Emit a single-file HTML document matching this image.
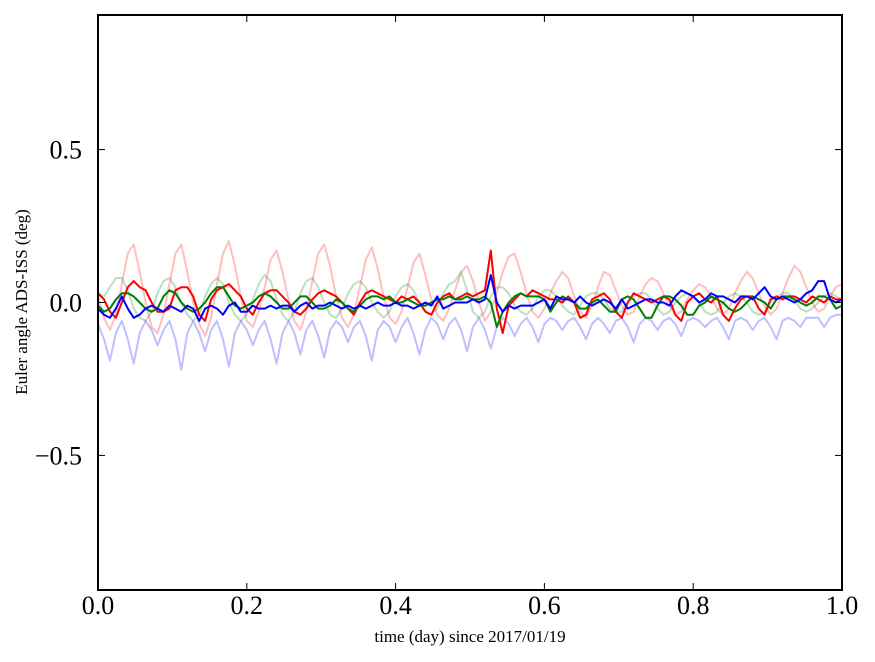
<!DOCTYPE html>
<html><head><meta charset="utf-8"><style>
html,body{margin:0;padding:0;background:#fff;}
svg{display:block;font-family:"Liberation Serif",serif;}
</style></head><body>
<svg id="chart" width="875" height="662">
<rect x="0" y="0" width="875" height="662" fill="#fff"/>
<g id="series"></g>
<rect x="98" y="15" width="744" height="575" fill="none" stroke="#000" stroke-width="2"/>
<g id="axes"></g>
<text x="470" y="642" font-size="17" text-anchor="middle">time (day) since 2017/01/19</text>
<text x="27" y="302" font-size="17" text-anchor="middle" transform="rotate(-90 27 302)">Euler angle ADS-ISS (deg)</text>
</svg>
<script>
const step = 0.008;
const xTicks = [0, 0.2, 0.4, 0.6, 0.8, 1.0];
const xTickLabels = ["0.0","0.2","0.4","0.6","0.8","1.0"];
const yTicks = [-0.5, 0, 0.5];
const yTickLabels = ["\u22120.5","0.0","0.5"];
const paleRed = [0.02,-0.05,-0.09,-0.04,0.06,0.16,0.19,0.10,0.0,-0.08,-0.10,-0.04,0.06,0.16,0.19,0.10,0.0,-0.07,-0.11,-0.05,0.06,0.16,0.20,0.12,0.02,-0.06,-0.08,-0.03,0.05,0.14,0.17,0.10,0.01,-0.06,-0.09,-0.03,0.07,0.16,0.19,0.12,0.02,-0.05,-0.08,-0.04,0.05,0.14,0.18,0.11,0.02,-0.05,-0.07,-0.03,0.05,0.13,0.16,0.09,0.01,-0.04,-0.06,-0.02,0.04,0.10,0.12,0.07,0.0,-0.06,-0.03,0.03,0.10,0.15,0.16,0.10,0.03,-0.03,-0.05,-0.02,0.03,0.07,0.10,0.08,0.02,-0.03,-0.05,-0.01,0.05,0.10,0.09,0.04,-0.01,-0.04,-0.03,0.02,0.06,0.08,0.07,0.03,-0.01,-0.04,-0.03,0.01,0.04,0.06,0.05,0.02,-0.02,-0.04,-0.02,0.03,0.07,0.10,0.08,0.03,-0.01,-0.04,-0.02,0.03,0.08,0.12,0.10,0.05,0.0,-0.03,-0.02,0.02,0.05,0.06];
const paleGreen = [0.03,0.02,0.05,0.08,0.08,0.04,-0.02,-0.05,-0.06,-0.03,0.03,0.07,0.08,0.05,0.0,-0.04,-0.06,-0.04,0.02,0.06,0.08,0.06,0.0,-0.04,-0.06,-0.04,0.01,0.06,0.09,0.07,0.01,-0.04,-0.06,-0.03,0.03,0.07,0.08,0.05,0.0,-0.04,-0.05,-0.02,0.03,0.06,0.07,0.05,0.0,-0.03,-0.05,-0.03,0.02,0.05,0.06,0.04,0.0,-0.03,-0.04,-0.02,0.03,0.06,0.07,0.10,0.04,-0.03,-0.05,-0.03,0.02,0.05,0.05,0.03,-0.01,-0.03,-0.04,-0.02,0.02,0.04,0.04,0.02,-0.01,-0.03,-0.04,-0.01,0.02,0.03,0.03,0.01,-0.02,-0.03,-0.03,0.0,0.02,0.03,0.03,0.01,-0.02,-0.04,-0.03,0.0,0.02,0.03,0.02,0.0,-0.03,-0.04,-0.03,0.0,0.02,0.03,0.02,0.0,-0.03,-0.04,-0.03,0.0,0.02,0.03,0.03,0.01,-0.02,-0.03,-0.02,0.0,0.02,0.03,0.02,0.01];
const paleBlue = [-0.07,-0.12,-0.19,-0.10,-0.06,-0.12,-0.20,-0.10,-0.06,-0.09,-0.14,-0.09,-0.06,-0.12,-0.22,-0.10,-0.06,-0.10,-0.16,-0.09,-0.06,-0.12,-0.21,-0.10,-0.06,-0.09,-0.14,-0.09,-0.06,-0.12,-0.20,-0.10,-0.06,-0.10,-0.17,-0.09,-0.06,-0.11,-0.18,-0.09,-0.06,-0.08,-0.13,-0.08,-0.06,-0.11,-0.19,-0.09,-0.06,-0.08,-0.13,-0.08,-0.05,-0.10,-0.17,-0.09,-0.05,-0.07,-0.12,-0.07,-0.05,-0.09,-0.16,-0.08,-0.05,-0.09,-0.15,-0.08,-0.05,-0.07,-0.11,-0.07,-0.05,-0.08,-0.13,-0.07,-0.05,-0.06,-0.09,-0.06,-0.05,-0.08,-0.12,-0.07,-0.05,-0.07,-0.10,-0.06,-0.05,-0.08,-0.13,-0.07,-0.05,-0.06,-0.09,-0.06,-0.05,-0.07,-0.11,-0.06,-0.05,-0.06,-0.08,-0.06,-0.05,-0.08,-0.12,-0.06,-0.05,-0.06,-0.09,-0.06,-0.05,-0.08,-0.12,-0.06,-0.05,-0.06,-0.08,-0.05,-0.05,-0.05,-0.08,-0.05,-0.04,-0.04];
const red = [0.03,0.01,-0.03,-0.05,0.0,0.05,0.07,0.05,0.04,0.0,-0.03,-0.03,-0.02,0.04,0.05,0.05,0.02,-0.04,-0.06,0.01,0.04,0.05,0.06,0.04,0.02,-0.02,-0.04,0.0,0.03,0.04,0.04,0.02,0.0,-0.03,-0.04,-0.02,0.01,0.03,0.04,0.03,0.02,0.0,-0.02,-0.04,0.0,0.03,0.04,0.03,0.02,0.01,0.0,0.02,0.01,0.02,0.0,-0.03,-0.04,0.0,0.02,0.03,0.01,0.02,0.03,0.02,0.03,0.04,0.17,-0.02,-0.10,-0.01,0.01,0.03,0.02,0.04,0.03,0.02,0.01,0.01,0.0,0.02,0.0,-0.05,-0.04,0.01,0.02,0.03,0.01,-0.03,-0.05,0.0,0.03,0.02,0.01,0.0,0.01,0.02,0.01,-0.04,-0.06,0.0,0.02,0.03,0.01,0.0,0.02,-0.04,-0.06,-0.02,0.01,0.02,0.02,-0.02,-0.04,0.01,0.02,0.01,0.02,0.02,0.01,0.0,0.02,0.01,0.0,0.02,0.01,0.01];
const green = [-0.01,-0.03,-0.02,0.01,0.03,0.03,0.02,0.0,-0.02,-0.03,-0.02,0.02,0.04,0.03,0.0,-0.02,-0.03,-0.02,0.0,0.03,0.05,0.05,0.02,-0.01,-0.02,-0.01,0.0,0.02,0.03,0.02,0.0,-0.02,-0.02,0.0,0.02,0.02,0.0,-0.02,-0.02,-0.01,0.01,0.0,-0.02,-0.03,-0.01,0.01,0.02,0.02,0.01,0.02,0.0,0.0,0.01,0.0,-0.01,-0.01,0.0,0.01,0.01,0.02,0.01,0.01,0.02,0.01,0.01,0.02,0.0,-0.08,-0.03,0.0,0.02,0.03,0.02,0.02,0.02,0.01,-0.03,0.0,0.02,0.01,0.0,-0.02,-0.02,0.0,0.01,-0.01,-0.03,-0.03,0.01,0.02,0.01,-0.02,-0.05,-0.05,-0.01,0.02,0.02,0.01,-0.01,-0.04,-0.04,-0.01,0.0,0.02,0.01,0.0,-0.02,-0.03,-0.02,0.0,0.02,0.01,0.0,-0.02,0.01,0.02,0.02,0.01,0.0,-0.01,0.0,0.02,0.02,0.01,-0.02,-0.01];
const blue = [-0.02,-0.04,-0.05,-0.02,0.02,-0.02,-0.05,-0.04,-0.02,-0.01,-0.02,-0.03,-0.01,-0.02,-0.03,-0.01,-0.02,-0.06,-0.02,-0.01,-0.02,-0.04,-0.01,0.0,-0.03,-0.03,-0.01,-0.02,-0.02,-0.01,-0.02,-0.01,-0.01,-0.03,-0.01,0.0,-0.02,-0.01,-0.01,0.0,-0.01,-0.02,-0.01,-0.02,-0.01,-0.02,-0.01,0.0,-0.01,-0.01,0.0,-0.01,-0.01,-0.02,-0.01,0.0,-0.01,0.02,-0.02,-0.01,0.0,0.0,0.0,0.01,0.0,0.01,0.09,0.0,-0.03,-0.01,-0.02,-0.01,-0.01,-0.01,0.0,0.01,-0.02,0.02,0.01,0.01,0.0,0.02,0.0,-0.01,0.0,0.01,0.0,-0.02,0.01,-0.02,-0.01,0.0,0.01,0.01,0.0,0.0,-0.01,0.02,0.04,0.03,0.02,0.0,0.01,0.03,0.02,0.02,0.01,0.0,0.02,0.02,0.01,0.03,0.05,0.02,0.01,0.02,0.01,0.0,0.01,0.03,0.04,0.07,0.07,0.01,0.0,0.01];

const X0=98, X1=842, Y0=15, Y1=590, YMIN=-0.94, YMAX=0.94;
function xs(t){return X0+(t-0)/(1-0)*(X1-X0);}
function ys(v){return Y1-(v-YMIN)/(YMAX-YMIN)*(Y1-Y0);}
const NS="http://www.w3.org/2000/svg";
const sg=document.getElementById('series');
const defs=[[paleRed,'#ff0000',0.25,'pale-red-line'],[paleGreen,'#008000',0.25,'pale-green-line'],[paleBlue,'#0000ff',0.25,'pale-blue-line'],[red,'#ff0000',1,'red-line'],[green,'#008000',1,'green-line'],[blue,'#0000ff',1,'blue-line']];
defs.forEach(d=>{
  const p=document.createElementNS(NS,'polyline');
  p.setAttribute('points',d[0].map((v,i)=>xs(i*step).toFixed(1)+','+ys(v).toFixed(1)).join(' '));
  p.setAttribute('fill','none');p.setAttribute('stroke',d[1]);p.setAttribute('stroke-opacity',d[2]);
  p.setAttribute('stroke-width','2');p.setAttribute('stroke-linejoin','round');
  
  
  sg.appendChild(p);
});
const ax=document.getElementById('axes');
xTicks.forEach((t,i)=>{
  const x=xs(t);
  [[Y1,Y1-7],[Y0,Y0+7]].forEach(a=>{const l=document.createElementNS(NS,'line');l.setAttribute('x1',x);l.setAttribute('x2',x);l.setAttribute('y1',a[0]);l.setAttribute('y2',a[1]);l.setAttribute('stroke','#000');l.setAttribute('stroke-width','1');
  
  
  ax.appendChild(l);});
  const tx=document.createElementNS(NS,'text');tx.setAttribute('x',x);tx.setAttribute('y',614);tx.setAttribute('font-size','26');tx.setAttribute('text-anchor','middle');tx.textContent=xTickLabels[i];
  
  
  ax.appendChild(tx);
});
yTicks.forEach((v,i)=>{
  const y=ys(v);
  [[X0,X0+7],[X1,X1-7]].forEach(a=>{const l=document.createElementNS(NS,'line');l.setAttribute('x1',a[0]);l.setAttribute('x2',a[1]);l.setAttribute('y1',y);l.setAttribute('y2',y);l.setAttribute('stroke','#000');l.setAttribute('stroke-width','1');
  
  
  ax.appendChild(l);});
  const tx=document.createElementNS(NS,'text');tx.setAttribute('x',82);tx.setAttribute('y',y+9);tx.setAttribute('font-size','26');tx.setAttribute('text-anchor','end');tx.textContent=yTickLabels[i];
  
  
  ax.appendChild(tx);
});
</script>
</body></html>
